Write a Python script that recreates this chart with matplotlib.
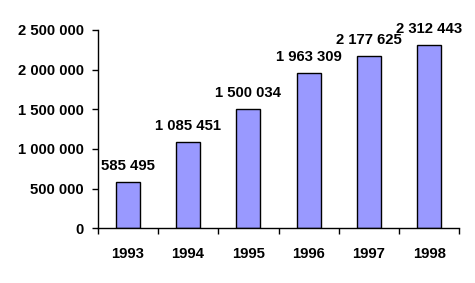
import matplotlib
matplotlib.use("Agg")
import matplotlib.pyplot as plt
from matplotlib.ticker import FuncFormatter

years = ["1993", "1994", "1995", "1996", "1997", "1998"]
values = [585495, 1085451, 1500034, 1963309, 2177625, 2312443]
y_ticks = [0, 500000, 1000000, 1500000, 2000000, 2500000]


def fmt(v, pos=None):
    return f"{int(v):,}".replace(",", " ")


plt.rcParams["font.family"] = ["Liberation Sans", "DejaVu Sans"]
plt.rcParams["font.weight"] = "bold"
FS = 10.7

fig = plt.figure(figsize=(4.75, 2.83), dpi=100)
ax = fig.add_axes([0.2057, 0.1933, 0.7613, 0.7007])

x = range(len(years))
bars = ax.bar(x, values, width=0.4, color="#9999FF", edgecolor="black", linewidth=1)

for xi, v in zip(x, values):
    ax.annotate(fmt(v), (xi, v), xytext=(0, 6.5), textcoords="offset points",
                ha="center", va="bottom", fontsize=FS, fontweight="bold")

ax.set_xlim(-0.5, len(years) - 0.5)
ax.set_ylim(0, 2500000)
ax.set_yticks(y_ticks)
ax.yaxis.set_major_formatter(FuncFormatter(fmt))
ax.set_xticks(x)
ax.set_xticklabels(years)
ax.set_xticks([i - 0.5 for i in range(len(years) + 1)], minor=True)

for s in ["top", "right"]:
    ax.spines[s].set_visible(False)
ax.spines["left"].set_linewidth(1)
ax.spines["bottom"].set_linewidth(1)

ax.tick_params(axis="x", which="major", length=0, pad=13.5, labelsize=FS)
ax.tick_params(axis="x", which="minor", length=4, width=1, direction="out")
ax.tick_params(axis="y", length=4, width=1, direction="out", pad=6, labelsize=FS)

fig.savefig("out.png", dpi=100)
